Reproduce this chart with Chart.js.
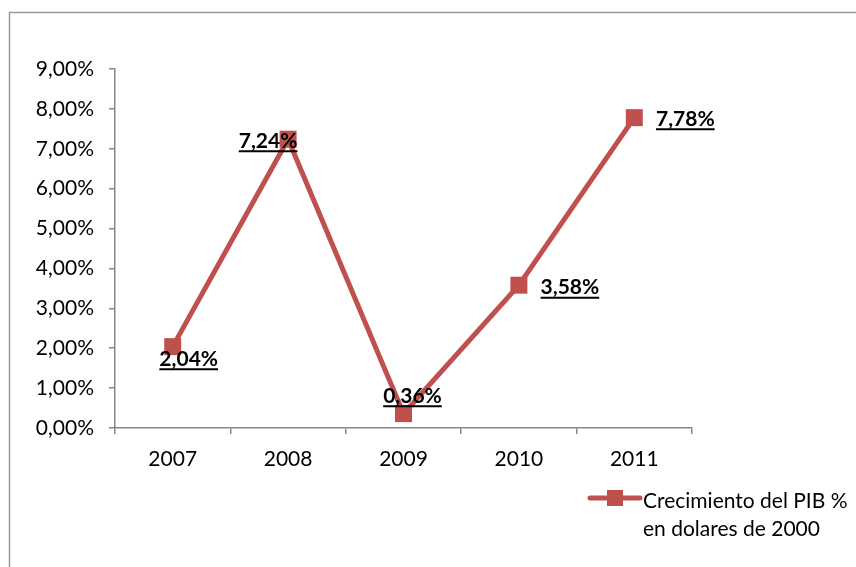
<!DOCTYPE html>
<html>
<head>
<meta charset="utf-8">
<script src="https://cdn.jsdelivr.net/npm/chart.js@4.4.1/dist/chart.umd.min.js"></script>
<style>
  html, body { margin: 0; padding: 0; background: #ffffff; }
  #wrap { position: relative; width: 856px; height: 567px; overflow: hidden; }
  canvas { display: block; }
</style>
</head>
<body>
<div id="wrap"><canvas id="c" width="856" height="567"></canvas></div>
<script>
// GDP growth per year (percent, constant 2000 dollars)
const years = ['2007', '2008', '2009', '2010', '2011'];
const growth = [2.04, 7.24, 0.36, 3.58, 7.78];
const seriesName = ['Crecimiento del PIB %', 'en dolares de 2000'];
const yTickValues = [0, 1, 2, 3, 4, 5, 6, 7, 8, 9];

const RED = '#C0504D';
const AXIS = '#868686';
const FONT = 'Lato, "Open Sans", sans-serif';

const pct = v => v.toFixed(2).replace('.', ',') + '%';

// Frame around the chart (runs off the right and bottom edges)
const framePlugin = {
  id: 'frame',
  beforeDraw(chart) {
    const ctx = chart.ctx;
    ctx.save();
    ctx.fillStyle = '#ffffff';
    ctx.fillRect(0, 0, chart.width, chart.height);
    ctx.strokeStyle = '#9a9a9a';
    ctx.lineWidth = 1.5;
    ctx.strokeRect(9.5, 12.5, chart.width + 20, chart.height + 20);
    ctx.restore();
  }
};

// Bold, underlined value labels placed beside each marker
const valueLabelPlugin = {
  id: 'valueLabels',
  afterDatasetsDraw(chart, args, opts) {
    const ctx = chart.ctx;
    const meta = chart.getDatasetMeta(0);
    const size = opts.size;
    ctx.save();
    ctx.font = 'bold ' + size + 'px ' + FONT;
    ctx.fillStyle = '#000000';
    ctx.strokeStyle = '#000000';
    ctx.textAlign = 'center';
    ctx.textBaseline = 'alphabetic';
    meta.data.forEach((pt, i) => {
      const text = pct(chart.data.datasets[0].data[i]);
      const off = opts.offsets[i];
      const cx = pt.x + off[0];
      const base = pt.y + off[1] + size * 0.34;
      ctx.fillText(text, cx, base);
      const w = ctx.measureText(text).width;
      ctx.lineWidth = 2;
      ctx.beginPath();
      ctx.moveTo(cx - w / 2, base + 3.5);
      ctx.lineTo(cx + w / 2, base + 3.5);
      ctx.stroke();
    });
    ctx.restore();
  }
};

// Legend drawn at the lower right, two lines of text
const legendPlugin = {
  id: 'sideLegend',
  afterDraw(chart, args, opts) {
    const ctx = chart.ctx;
    const ds = chart.data.datasets[0];
    const x = opts.x, y = opts.y;
    ctx.save();
    ctx.strokeStyle = ds.borderColor;
    ctx.lineWidth = ds.borderWidth;
    ctx.lineCap = 'round';
    ctx.beginPath();
    ctx.moveTo(x, y);
    ctx.lineTo(x + 50, y);
    ctx.stroke();
    ctx.fillStyle = ds.pointBackgroundColor;
    ctx.fillRect(x + 17, y - 8, 16, 16);
    ctx.fillStyle = '#000000';
    ctx.font = opts.size + 'px ' + FONT;
    ctx.textAlign = 'left';
    ctx.textBaseline = 'alphabetic';
    seriesName.forEach((line, i) => {
      ctx.fillText(line, x + 53, y + 10 + i * 28);
    });
    ctx.restore();
  }
};

new Chart(document.getElementById('c'), {
  type: 'line',
  data: {
    labels: years,
    datasets: [{
      label: seriesName.join(' '),
      data: growth,
      borderColor: RED,
      borderWidth: 5,
      backgroundColor: RED,
      pointBackgroundColor: RED,
      pointBorderColor: RED,
      pointBorderWidth: 0,
      pointStyle: 'rect',
      pointRadius: 12,
      pointHoverRadius: 12,
      tension: 0,
      fill: false
    }]
  },
  options: {
    responsive: false,
    animation: false,
    devicePixelRatio: 1,
    events: [],
    layout: { padding: { top: 69, right: 164, left: 0, bottom: 0 } },
    plugins: {
      legend: { display: false },
      tooltip: { enabled: false },
      valueLabels: {
        size: 21,
        offsets: [[16, 12], [-20, 1.5], [9, -18], [51, 2], [51, 1]]
      },
      sideLegend: { x: 590, y: 498, size: 21 }
    },
    scales: {
      x: {
        type: 'category',
        offset: true,
        grid: { offset: true, drawOnChartArea: false, drawTicks: true, tickLength: 6, color: AXIS, lineWidth: 1.5 },
        border: { color: AXIS, width: 1.5 },
        ticks: { color: '#000000', font: { family: FONT, size: 21 }, padding: 13, maxRotation: 0 },
        afterFit(scale) { scale.height = 139; }
      },
      y: {
        min: 0,
        max: 9,
        afterBuildTicks(scale) { scale.ticks = yTickValues.map(v => ({ value: v })); },
        grid: { drawOnChartArea: false, drawTicks: true, tickLength: 6, color: AXIS, lineWidth: 1.5 },
        border: { color: AXIS, width: 1.5 },
        ticks: { color: '#000000', font: { family: FONT, size: 21 }, padding: 15, callback: v => pct(v) },
        afterFit(scale) { scale.width = 115; }
      }
    }
  },
  plugins: [framePlugin, valueLabelPlugin, legendPlugin]
});
</script>
</body>
</html>
